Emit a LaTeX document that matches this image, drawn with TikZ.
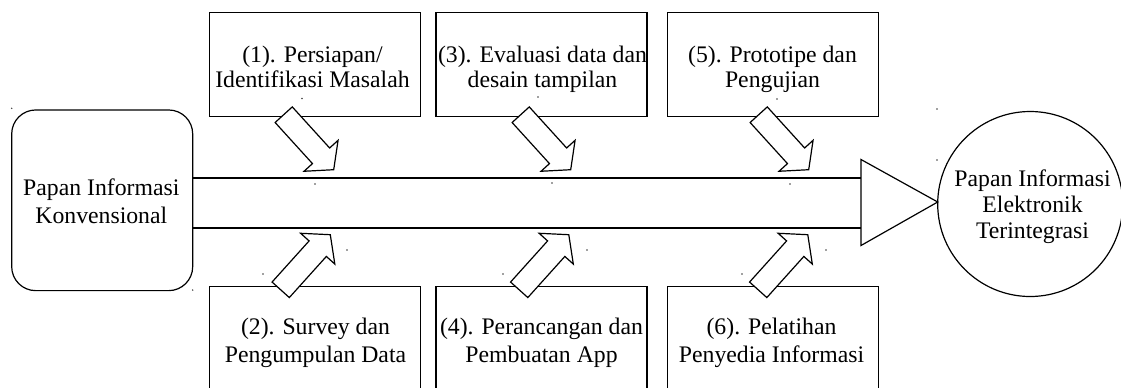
\documentclass[tikz,border=0pt]{standalone}
\usepackage{fontspec}
\setmainfont{Liberation Serif}
\usetikzlibrary{calc}

% hollow block arrow from a tail point to a tip point
\newcommand{\blockarrow}[3]{%
  \coordinate (#1-t) at #2;
  \coordinate (#1-h) at #3;
  \coordinate (#1-b) at ($(#1-h)!14.1pt!(#1-t)$);
  \draw[blockarrowstyle]
    ($(#1-t)!8.7pt!90:(#1-h)$) -- ($(#1-b)!8.7pt!-90:(#1-t)$)
    -- ($(#1-b)!17.25pt!-90:(#1-t)$) -- (#1-h)
    -- ($(#1-b)!17.25pt!90:(#1-t)$) -- ($(#1-b)!8.7pt!90:(#1-t)$)
    -- ($(#1-t)!8.7pt!-90:(#1-h)$) -- cycle;}

\begin{document}
\begin{tikzpicture}[x=0.75pt,y=-0.75pt,
  line width=0.9pt,
  stage/.style={draw, rectangle, inner sep=0pt, minimum width=158.25pt},
  topstage/.style={stage, minimum height=78pt},
  botstage/.style={stage, minimum height=90pt},
  toptext/.style={font=\fontsize{17.8pt}{19.4pt}\selectfont, align=center, inner sep=0pt, anchor=north},
  bottext/.style={font=\fontsize{17.8pt}{20.7pt}\selectfont, align=center, inner sep=0pt, anchor=north},
  blockarrowstyle/.style={draw, fill=white, line width=0.9pt, line join=miter},
  speck/.style={fill=black!75}]

\useasboundingbox (0,0) rectangle (1121,387);
\clip (0,0) rectangle (1121,387);

% start and end states
\node[draw, rounded corners=18pt, inner sep=0pt,
      minimum width=135.75pt, minimum height=135.5pt] (lb) at (102.2,200.3) {};
\node[bottext] (lbt) at (101.3,175.7) {Papan Informasi\strut\\Konvensional\strut};

\node[draw, circle, inner sep=0pt, minimum size=138.75pt] (c) at (1030.2,204) {};
\node[font=\fontsize{17.8pt}{19.6pt}\selectfont, align=center, inner sep=0pt, anchor=north]
  (ct) at (1032.5,167.7) {Papan Informasi\strut\\Elektronik\strut\\Terintegrasi\strut};

% main flow band ending in a triangle head
\coordinate (triT) at (861,159.5);
\coordinate (triB) at (861,245.5);
\coordinate (triP) at (937.7,202);
\coordinate (barU) at (861,178);
\coordinate (barL) at (861,228);
\draw (barU -| lb.east) -- (barU);
\draw (barL -| lb.east) -- (barL);
\draw[line join=miter] (triT) -- (triP) -- (triB) -- cycle;

% stage boxes above the band
\node[topstage] (b1) at (315.3,64.7) {};
\node[topstage] (b3) at (541.5,64.7) {};
\node[topstage] (b5) at (772.8,64.7) {};
\node[toptext] (b1t) at (312.5,43.4) {(1). Persiapan/\strut\\Identifikasi Masalah\strut};
\node[toptext] (b3t) at (542.5,43.4) {(3). Evaluasi data dan\strut\\desain tampilan\strut};
\node[toptext] (b5t) at (772.5,43.4) {(5). Prototipe dan\strut\\Pengujian\strut};

% stage boxes below the band
\node[botstage] (b2) at (315.3,346.7) {};
\node[botstage] (b4) at (541.5,346.7) {};
\node[botstage] (b6) at (772.8,346.7) {};
\node[bottext] (b2t) at (315.5,314.7) {(2). Survey dan\strut\\Pengumpulan Data\strut};
\node[bottext] (b4t) at (541.5,314.7) {(4). Perancangan dan\strut\\Pembuatan App\strut};
\node[bottext] (b6t) at (771.5,314.7) {(6). Pelatihan\strut\\Penyedia Informasi\strut};

% block arrows feeding the band
\blockarrow{a1}{(283.7,114.7)}{(333.7,169.7)}
\blockarrow{a3}{(520.7,114.7)}{(570.7,169.7)}
\blockarrow{a5}{(758.7,114.7)}{(808.7,169.7)}
\blockarrow{a2}{(280.7,289.8)}{(330.3,234.7)}
\blockarrow{a4}{(519.2,289.8)}{(568.8,234.7)}
\blockarrow{a6}{(758.2,289.8)}{(807.8,234.7)}

% stray specks
\foreach \p in {(11.7,108.3),(302,98.5),(315,184),(263,274),(347,250),(192.7,290),
                (538,97),(552,183),(777,99),(790,184),(503,274),(587,250),
                (742,274),(826,250),(937,109),(937,160)}
  \fill[speck] \p circle[radius=0.6pt];
\end{tikzpicture}
\end{document}
